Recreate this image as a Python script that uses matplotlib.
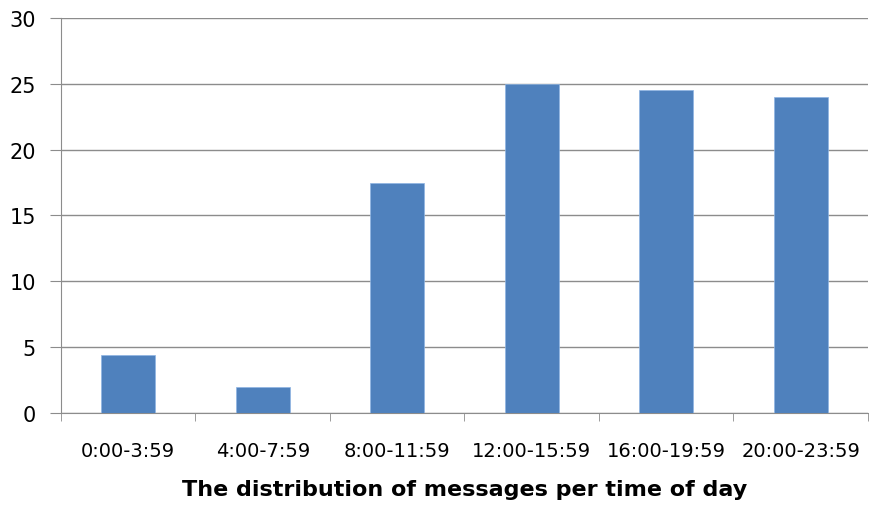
import matplotlib.pyplot as plt
import numpy as np

categories = ["0:00-3:59", "4:00-7:59", "8:00-11:59", "12:00-15:59", "16:00-19:59", "20:00-23:59"]
values = [4.4, 2.0, 17.5, 25.0, 24.5, 24.0]
yticks = [0, 5, 10, 15, 20, 25, 30]

fig = plt.figure(figsize=(8.7, 5.06), dpi=100)
ax = fig.add_axes([0.0701, 0.1818, 0.9276, 0.7807])

x = np.arange(len(categories))
ax.bar(x, values, width=0.4, color="#4F81BD", edgecolor="#8EB4E3", linewidth=0.5, zorder=3)

ax.set_xlim(-0.5, len(categories) - 0.5)
ax.set_ylim(0, 30)
ax.set_yticks(yticks)
ax.yaxis.grid(True, color="#8C8C8C", linewidth=1.0, zorder=0)
ax.tick_params(axis="y", length=8, color="#8C8C8C", labelsize=15, pad=10)

ax.set_xticks(x)
ax.set_xticklabels(categories)
ax.set_xticks(np.arange(len(categories) + 1) - 0.5, minor=True)
ax.tick_params(axis="x", which="major", length=0, labelsize=14, pad=20)
ax.tick_params(axis="x", which="minor", length=6, color="#8C8C8C")

for s in ["top", "right"]:
    ax.spines[s].set_visible(False)
for s in ["left", "bottom"]:
    ax.spines[s].set_color("#8C8C8C")

ax.set_xlabel("The distribution of messages per time of day", fontsize=16, fontweight="bold", labelpad=14)

fig.savefig("out.png", dpi=100)
